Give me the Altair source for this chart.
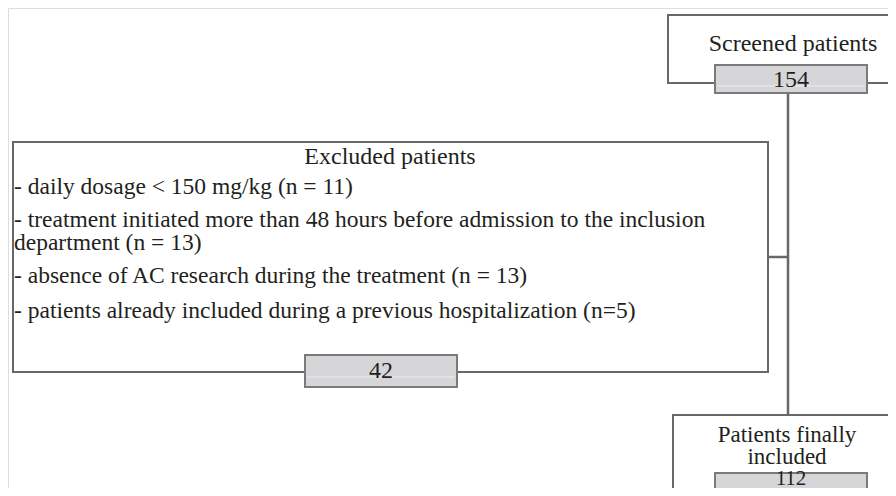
import altair as alt
import pandas as pd

# ---- content ----
screened_label = ["Screened patients"]
screened_n = [154]
excluded_title = ["Excluded patients"]
excluded_items = [
    "- daily dosage < 150 mg/kg (n = 11)",
    "- treatment initiated more than 48 hours before admission to the inclusion",
    "department (n = 13)",
    "- absence of AC research during the treatment (n = 13)",
    "- patients already included during a previous hospitalization (n=5)",
]
excluded_n = [42]
included_label = ["Patients finally", "included"]
included_n = [112]

# ---- layout (reference pixel coordinates) ----
boxes = pd.DataFrame({
    "x": [668, 13, 673], "x2": [920, 768, 920],
    "y": [15, 142, 415], "y2": [83, 372, 490],
})
counts = pd.DataFrame({
    "x": [715, 305, 715], "x2": [867, 457, 867],
    "y": [65, 355, 473], "y2": [93, 387, 510],
    "n": [str(screened_n[0]), str(excluded_n[0]), str(included_n[0])],
    "tx": [791, 381, 791], "ty": [80, 371, 479],
    "fs": [24, 24, 21],
})
sheen = pd.DataFrame({
    "x": [717, 307, 717], "x2": [865, 455, 865],
    "y": [86, 377, 489],
})
lines = pd.DataFrame({
    "x": [788, 768], "x2": [788, 788],
    "y": [93, 257], "y2": [415, 257],
})
centered = pd.DataFrame({
    "t": screened_label + excluded_title + included_label,
    "x": [793, 390, 787, 787], "y": [44, 157, 435, 457],
    "fs": [24, 24, 23, 23],
})
left = pd.DataFrame({
    "t": excluded_items,
    "x": [14] * 5,
    "y": [187, 220, 243, 276, 311],
})

X = alt.Scale(domain=[8, 888], nice=False, zero=False)
Y = alt.Scale(domain=[488, 8], nice=False, zero=False)
FONT = "Liberation Serif"
STROKE = "#686868"
INK = "#231f20"

line_layer = alt.Chart(lines).mark_rule(color=STROKE, strokeWidth=2.5, clip=True).encode(
    x=alt.X("x:Q", scale=X, axis=None), x2="x2:Q",
    y=alt.Y("y:Q", scale=Y, axis=None), y2="y2:Q",
)
box_layer = alt.Chart(boxes).mark_rect(fill="white", stroke=STROKE, strokeWidth=2, clip=True).encode(
    x=alt.X("x:Q", scale=X, axis=None), x2="x2:Q",
    y=alt.Y("y:Q", scale=Y, axis=None), y2="y2:Q",
)
count_layer = alt.Chart(counts).mark_rect(fill="#d6d6d8", stroke="#7a7a7a", strokeWidth=2, clip=True).encode(
    x=alt.X("x:Q", scale=X, axis=None), x2="x2:Q",
    y=alt.Y("y:Q", scale=Y, axis=None), y2="y2:Q",
)
sheen_layer = alt.Chart(sheen).mark_rule(color="#e6e6e8", strokeWidth=1.5, clip=True).encode(
    x=alt.X("x:Q", scale=X, axis=None), x2="x2:Q",
    y=alt.Y("y:Q", scale=Y, axis=None),
)
count_text = alt.Chart(counts).mark_text(font=FONT, color=INK, baseline="middle", clip=True).encode(
    x=alt.X("tx:Q", scale=X, axis=None), y=alt.Y("ty:Q", scale=Y, axis=None), text="n:N",
    size=alt.Size("fs:Q", scale=None, legend=None),
)
center_text = alt.Chart(centered).mark_text(font=FONT, color=INK, baseline="middle").encode(
    x=alt.X("x:Q", scale=X, axis=None), y=alt.Y("y:Q", scale=Y, axis=None), text="t:N",
    size=alt.Size("fs:Q", scale=None, legend=None),
)
left_text = alt.Chart(left).mark_text(font=FONT, fontSize=23.5, color=INK, baseline="middle", align="left").encode(
    x=alt.X("x:Q", scale=X, axis=None), y=alt.Y("y:Q", scale=Y, axis=None), text="t:N",
)

chart = alt.layer(line_layer, box_layer, count_layer, sheen_layer, count_text, center_text, left_text).properties(
    width=880, height=480, padding=0
).configure_view(stroke=None).configure(background="white")

chart.save("out.html", embed_options={"renderer": "svg", "actions": False})
